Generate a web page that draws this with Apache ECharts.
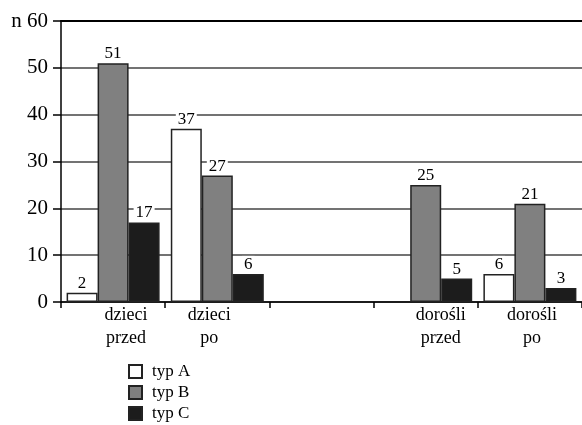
<!DOCTYPE html>
<html><head><meta charset="utf-8">
<script src="https://cdn.jsdelivr.net/npm/echarts@6/dist/echarts.min.js"></script>
<style>html,body{margin:0;padding:0;background:#fff}#c{width:582px;height:425px}</style>
</head><body><div id="c"></div>
<script>
var categories = ['dzieci\nprzed', 'dzieci\npo', '', 'dorośli\nprzed', 'dorośli\npo'];
var typA = [2, 37, null, null, 6];
var typB = [51, 27, null, 25, 21];
var typC = [17, 6, null, 5, 3];
var seriesNames = ['typ A', 'typ B', 'typ C'];
var yTicks = [0, 10, 20, 30, 40, 50, 60];

var FONT = '"Liberation Serif", "Times New Roman", serif';
var labelShift = [13, -8, 0, 15, 2];

var chart = echarts.init(document.getElementById('c'));
function barSeries(name, data, color) {
  return {
    name: name, type: 'bar', data: data, barWidth: 31, barGap: '0%',
    itemStyle: { color: color, borderColor: '#222', borderWidth: 1.5 },
    label: { show: true, position: 'top', distance: 1, color: '#000', fontFamily: FONT, fontSize: 17,
             backgroundColor: '#fff', padding: [0, 2, 0, 2] }
  };
}
var rich = {};
labelShift.forEach(function (s, i) {
  rich['p' + i] = { fontFamily: FONT, fontSize: 18, color: '#000', lineHeight: 23,
    padding: s >= 0 ? [0, 0, 0, 2 * s] : [0, -2 * s, 0, 0] };
});
chart.setOption({
  animation: false,
  grid: { left: 61, right: -9, top: 21, bottom: 123, containLabel: false },
  legend: {
    orient: 'vertical', left: 128, top: 363, height: 120, padding: 0,
    itemWidth: 13, itemHeight: 13, itemGap: 4,
    icon: 'rect', data: seriesNames,
    textStyle: { fontFamily: FONT, fontSize: 17, color: '#000', lineHeight: 17, padding: [0, 0, 0, 5] }
  },
  xAxis: [{
    type: 'category', data: categories,
    axisLine: { lineStyle: { color: '#000', width: 1.5 } },
    axisTick: { show: true, length: 6, lineStyle: { color: '#000', width: 1.5 } },
    axisLabel: { margin: 2, interval: 0,
      formatter: function (v, i) {
        if (!v) return '';
        return v.split('\n').map(function (t) { return '{p' + i + '|' + t + '}'; }).join('\n');
      },
      rich: rich }
  }, {
    type: 'category', position: 'top', data: categories,
    axisLine: { lineStyle: { color: '#000', width: 2 } },
    axisTick: { show: false }, axisLabel: { show: false }
  }],
  yAxis: {
    type: 'value', min: 0, max: 60, interval: 10,
    axisLine: { show: true, lineStyle: { color: '#000', width: 1.5 } },
    axisTick: { show: true, length: 8, lineStyle: { color: '#000', width: 1.5 } },
    axisLabel: { margin: 13, color: '#000', fontFamily: FONT, fontSize: 21,
      formatter: function (v) { return v === yTicks[yTicks.length - 1] ? 'n ' + v : String(v); } },
    splitLine: { show: true, lineStyle: { color: '#444', width: 1.5 } }
  },
  series: [
    barSeries(seriesNames[0], typA, '#ffffff'),
    barSeries(seriesNames[1], typB, '#808080'),
    barSeries(seriesNames[2], typC, '#1c1c1c')
  ]
});
</script></body></html>
